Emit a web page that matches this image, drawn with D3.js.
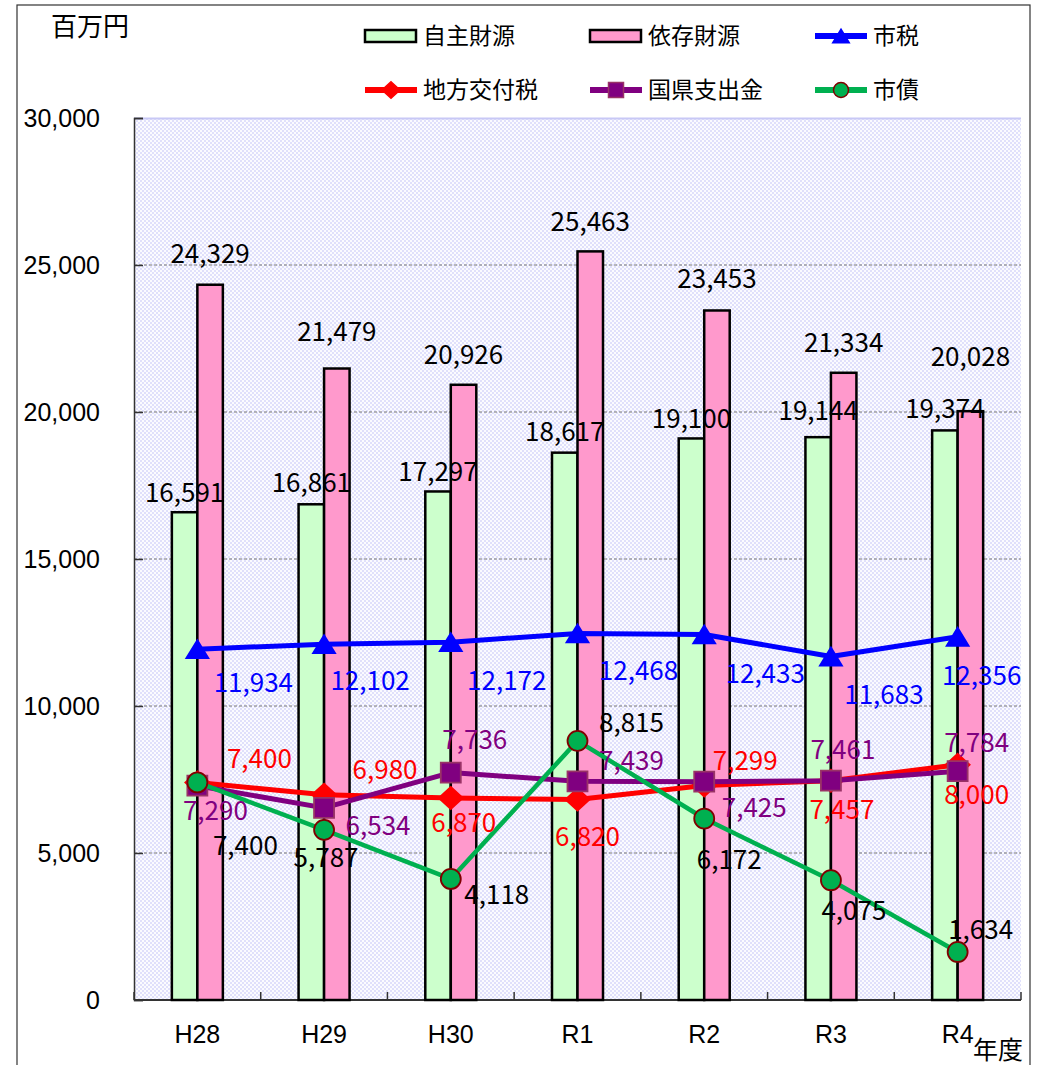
<!DOCTYPE html>
<html><head><meta charset="utf-8">
<script src="https://cdn.jsdelivr.net/npm/d3@7/dist/d3.min.js"></script>
<style>
html,body{margin:0;padding:0;background:#fff;}
svg{display:block;}
.jp{font-family:"Noto Sans CJK JP","Noto Sans",sans-serif;}
.lat{font-family:"Liberation Sans",Arial,sans-serif;}
</style></head>
<body>
<svg id="chart" width="1041" height="1065"></svg>
<script>
// ---- DATA ----
const categories = ["H28","H29","H30","R1","R2","R3","R4"];
const jishuZaigen = [16591,16861,17297,18617,19100,19144,19374];   // 自主財源
const izonZaigen  = [24329,21479,20926,25463,23453,21334,20028];   // 依存財源
const shizei      = [11934,12102,12172,12468,12433,11683,12356];   // 市税
const chihouKoufu = [7400,6980,6870,6820,7299,7457,8000];          // 地方交付税
const kokuken     = [7290,6534,7736,7439,7425,7461,7784];          // 国県支出金
const shisai      = [7400,5787,4118,8815,6172,4075,1634];          // 市債
const yTickValues = [0,5000,10000,15000,20000,25000,30000];

// ---- LAYOUT (label nudges, px) ----
const jishuLabelDy = [-20,-22,-20,-21,-20,-27,-22];
const izonLabelDy  = [-31,-37,-30,-30,-32,-30,-55];
const shizeiDx = [56,46,56,61,61,53,24], shizeiDy = [33,36,38,37,39,38,39];
const chihouDx = [62,61,13,10,41,11,19], chihouDy = [-24,-25,25,37,-25,29,30];
const kokukenDx = [18,54,24,54,50,12,19], kokukenDy = [25,18,-33,-21,26,-31,-29];
const shisaiDx = [48,2,46,54,25,23,23], shisaiDy = [63,28,16,-18,41,30,-22];

const svg = d3.select("#chart");
const plot = {left:134, right:1021, top:118, bottom:1000};

// outer frame
svg.append("rect").attr("x",17).attr("y",5).attr("width",1013).attr("height",1080)
  .attr("fill","none").attr("stroke","#333").attr("stroke-width",1.2);

// pattern
const defs = svg.append("defs");
const pat = defs.append("pattern").attr("id","chk").attr("width",4).attr("height",4)
  .attr("patternUnits","userSpaceOnUse");
pat.append("rect").attr("width",4).attr("height",4).attr("fill","#fbfbff");
pat.append("rect").attr("width",2).attr("height",2).attr("fill","#e0e0fb");
pat.append("rect").attr("x",2).attr("y",2).attr("width",2).attr("height",2).attr("fill","#e0e0fb");

const x = d3.scaleBand().domain(categories).range([plot.left, plot.right]).paddingInner(0).paddingOuter(0);
const y = d3.scaleLinear().domain([0,30000]).range([plot.bottom, plot.top]);
const bw = 25.5;
const cx = c => x(c) + x.bandwidth()/2;

svg.append("rect").attr("x",plot.left).attr("y",plot.top)
  .attr("width",plot.right-plot.left).attr("height",plot.bottom-plot.top)
  .attr("fill","url(#chk)");
svg.append("line").attr("x1",plot.left).attr("x2",plot.right).attr("y1",plot.top+0.5).attr("y2",plot.top+0.5)
  .attr("stroke","#c8c8f6").attr("stroke-width",2);

// gridlines
svg.append("g").selectAll("line").data(yTickValues.filter(v=>v>0 && v<30000)).join("line")
  .attr("x1",plot.left).attr("x2",plot.right)
  .attr("y1",d=>y(d)).attr("y2",d=>y(d))
  .attr("stroke","#777").attr("stroke-width",1).attr("stroke-dasharray","3,2");

// axes
const yAxis = d3.axisLeft(y).tickValues(yTickValues).tickSize(-9).tickFormat("");
const gy = svg.append("g").attr("transform",`translate(${plot.left},0)`).call(yAxis);
gy.select(".domain").attr("stroke","#333").attr("stroke-width",1.5);
gy.selectAll(".tick line").attr("stroke","#333").attr("stroke-width",1.5);

svg.append("g").selectAll("text").data(yTickValues).join("text")
  .attr("class","lat").attr("x",100).attr("y",d=>y(d)).attr("dy","0.36em")
  .attr("text-anchor","end").attr("font-size",25).attr("fill","#000")
  .text(d=>d3.format(",")(d));

svg.append("line").attr("x1",plot.left).attr("x2",plot.right).attr("y1",plot.bottom).attr("y2",plot.bottom)
  .attr("stroke","#333").attr("stroke-width",2);
const boundaries = categories.map(c=>x(c)).concat([plot.right]);
svg.append("g").selectAll("line").data(boundaries).join("line")
  .attr("x1",d=>d).attr("x2",d=>d).attr("y1",plot.bottom).attr("y2",plot.bottom-8)
  .attr("stroke","#333").attr("stroke-width",1.5);

svg.append("g").selectAll("text").data(categories).join("text")
  .attr("class","lat").attr("x",d=>cx(d)).attr("y",1034).attr("dy","0.36em")
  .attr("text-anchor","middle").attr("font-size",25).attr("fill","#000").text(d=>d);

svg.append("text").attr("class","jp").attr("x",998).attr("y",1050).attr("dy","0.36em")
  .attr("text-anchor","middle").attr("font-size",25).text("年度");
svg.append("text").attr("class","jp").attr("x",90).attr("y",27).attr("dy","0.36em")
  .attr("text-anchor","middle").attr("font-size",26).text("百万円");

// bars
const gb = svg.append("g");
gb.selectAll("rect.j").data(jishuZaigen).join("rect").attr("class","j")
  .attr("x",(d,i)=>cx(categories[i])-bw).attr("width",bw)
  .attr("y",d=>y(d)).attr("height",d=>y(0)-y(d))
  .attr("fill","#ccffcc").attr("stroke","#000").attr("stroke-width",2.5);
gb.selectAll("rect.p").data(izonZaigen).join("rect").attr("class","p")
  .attr("x",(d,i)=>cx(categories[i])).attr("width",bw)
  .attr("y",d=>y(d)).attr("height",d=>y(0)-y(d))
  .attr("fill","#ff99cc").attr("stroke","#000").attr("stroke-width",2.5);

// marker paths
const markers = {
  tri: (s)=>`M0,${-9*s}L${11*s},${9*s}L${-11*s},${9*s}Z`,
  dia: (s)=>`M0,${-11*s}L${12*s},0L0,${11*s}L${-12*s},0Z`,
  sq:  (s)=>`M${-10*s},${-10*s}H${10*s}V${10*s}H${-10*s}Z`,
  cir: (s)=>d3.symbol(d3.symbolCircle, Math.PI*100*s*s)()
};

const seriesDefs = [
  {name:"市税", vals:shizei, color:"#0000ff", mk:"tri", mfill:"#0000ff", mstroke:"#0000ff", w:5, dx:shizeiDx, dy:shizeiDy, lcolor:"#0000ff"},
  {name:"地方交付税", vals:chihouKoufu, color:"#ff0000", mk:"dia", mfill:"#ff0000", mstroke:"#ff0000", w:5, dx:chihouDx, dy:chihouDy, lcolor:"#ff0000"},
  {name:"国県支出金", vals:kokuken, color:"#800080", mk:"sq", mfill:"#800080", mstroke:"#993366", w:5, dx:kokukenDx, dy:kokukenDy, lcolor:"#800080"},
  {name:"市債", vals:shisai, color:"#00b050", mk:"cir", mfill:"#00b050", mstroke:"#800000", w:4.5, dx:shisaiDx, dy:shisaiDy, lcolor:"#000000"}
];

const line = d3.line().x((d,i)=>cx(categories[i])).y(d=>y(d));
seriesDefs.forEach(s=>{
  const g = svg.append("g");
  g.append("path").attr("d",line(s.vals)).attr("fill","none")
    .attr("stroke",s.color).attr("stroke-width",s.w).attr("stroke-linejoin","round");
  g.selectAll("path.m").data(s.vals).join("path").attr("class","m")
    .attr("transform",(d,i)=>`translate(${cx(categories[i])},${y(d)})`)
    .attr("d",markers[s.mk](1)).attr("fill",s.mfill).attr("stroke",s.mstroke).attr("stroke-width",1.8);
});

// data labels
const fmt = d3.format(",");
const lab = svg.append("g").attr("class","jp").attr("font-size",26).attr("text-anchor","middle");
lab.selectAll("text.jl").data(jishuZaigen).join("text").attr("class","jl")
  .attr("x",(d,i)=>cx(categories[i])-bw/2).attr("y",(d,i)=>y(d)+jishuLabelDy[i]).attr("dy","0.36em")
  .attr("fill","#000").text(d=>fmt(d));
lab.selectAll("text.il").data(izonZaigen).join("text").attr("class","il")
  .attr("x",(d,i)=>cx(categories[i])+bw/2).attr("y",(d,i)=>y(d)+izonLabelDy[i]).attr("dy","0.36em")
  .attr("fill","#000").text(d=>fmt(d));
seriesDefs.forEach((s,k)=>{
  lab.selectAll("text.s"+k).data(s.vals).join("text").attr("class","s"+k)
    .attr("x",(d,i)=>cx(categories[i])+s.dx[i]).attr("y",(d,i)=>y(d)+s.dy[i]).attr("dy","0.36em")
    .attr("fill",s.lcolor).text(d=>fmt(d));
});

// legend
const leg = svg.append("g").attr("class","jp").attr("font-size",23);
const legendItems = [
  {t:"自主財源", type:"bar", fill:"#ccffcc", x:365, y:36},
  {t:"依存財源", type:"bar", fill:"#ff99cc", x:590, y:36},
  {t:"市税", type:"line", s:seriesDefs[0], x:815, y:36},
  {t:"地方交付税", type:"line", s:seriesDefs[1], x:365, y:90},
  {t:"国県支出金", type:"line", s:seriesDefs[2], x:590, y:90},
  {t:"市債", type:"line", s:seriesDefs[3], x:815, y:90}
];
legendItems.forEach(it=>{
  if(it.type==="bar"){
    leg.append("rect").attr("x",it.x).attr("y",it.y-6).attr("width",51).attr("height",12)
      .attr("fill",it.fill).attr("stroke","#000").attr("stroke-width",2.5);
  } else {
    leg.append("line").attr("x1",it.x).attr("x2",it.x+52).attr("y1",it.y).attr("y2",it.y)
      .attr("stroke",it.s.color).attr("stroke-width",6);
    leg.append("path").attr("transform",`translate(${it.x+26},${it.y})`)
      .attr("d",markers[it.s.mk](0.75)).attr("fill",it.s.mfill).attr("stroke",it.s.mstroke).attr("stroke-width",1.5);
  }
  leg.append("text").attr("x",it.x+58).attr("y",it.y).attr("dy","0.36em").attr("fill","#000").text(it.t);
});
</script>
</body></html>
